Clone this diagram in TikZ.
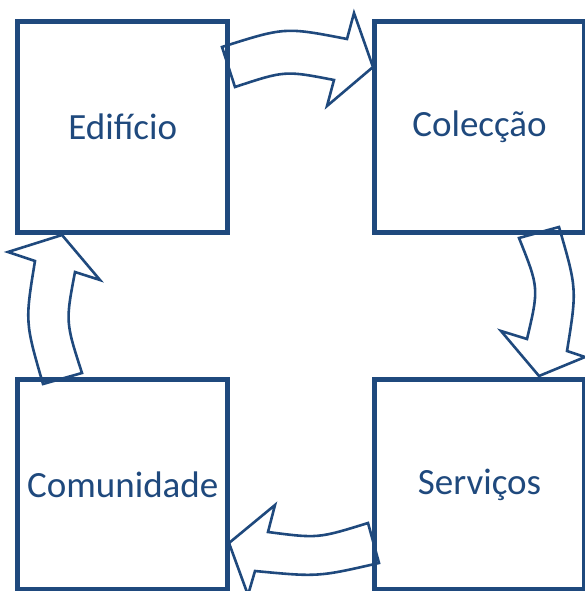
\documentclass[tikz,border=0pt]{standalone}
\usepackage{fontspec}
\setmainfont{Carlito}
\definecolor{sablue}{HTML}{1F497D}
\begin{document}
\begin{tikzpicture}[x=1pt,y=-1pt,
  box/.style={draw=sablue,line width=5pt,minimum width=210pt,minimum height=210pt,inner sep=0pt,
    font=\fontsize{37}{40}\selectfont,text=sablue},
  carrow/.style={draw=sablue,line width=2.6pt,line join=miter}]
\useasboundingbox (0,0) rectangle (585,591);
% arrows
\draw[carrow] (222,47) .. controls (285,27) .. (347,39) -- (354,13) -- (373,67) -- (327,106) -- (334,80)
  .. controls (285,70.5) .. (235,87) -- cycle;
\draw[carrow] (559,227) .. controls (577,289) .. (567,351) -- (585,357) -- (539,376) -- (501,331) -- (527,339)
  .. controls (539,288) .. (519,238) -- cycle;
\draw[carrow] (379,563) .. controls (318,577) .. (255,571) -- (248,595) -- (229,543) -- (275,505) -- (268,532)
  .. controls (318,538.5) .. (368,523) -- cycle;
\draw[carrow] (43,384) .. controls (25,322) .. (35,261) -- (8,252) -- (62,235) -- (100,280) -- (75,272)
  .. controls (65.5,322) .. (82,373) -- cycle;
% boxes
\node[box] (edificio) at (122.75,127) {Edifício};
\node[box] (coleccao) at (479.5,127) {Colecção};
\node[box] (comunidade) at (122.75,484.5) {Comunidade};
\node[box] (servicos) at (479.5,484.5) {Serviços};
\end{tikzpicture}
\end{document}
